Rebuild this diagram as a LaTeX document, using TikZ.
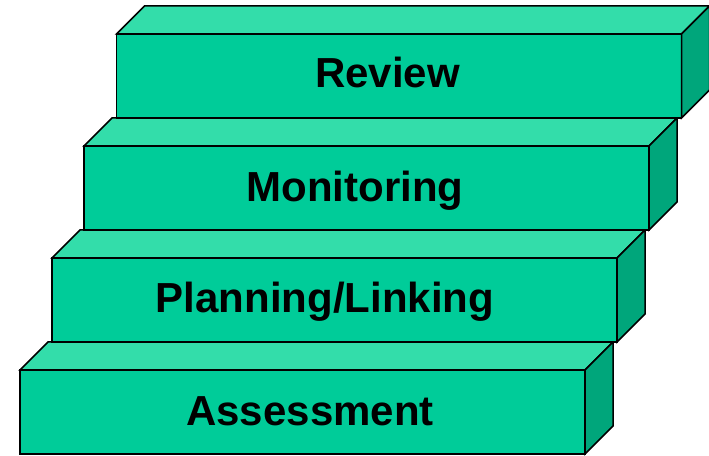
\documentclass[tikz,border=0pt]{standalone}
\usepackage{fontspec}
\setmainfont{Liberation Sans}
\usetikzlibrary{calc}
\definecolor{frontc}{RGB}{0,204,153}
\definecolor{topc}{RGB}{51,221,170}
\definecolor{sidec}{RGB}{0,166,123}
\begin{document}
\begin{tikzpicture}[x=1pt,y=1pt,
  frontface/.style={draw=black,fill=frontc,line width=1.5pt,minimum width=565pt,minimum height=84pt,inner sep=0pt,outer sep=0pt},
  topface/.style={draw=black,fill=topc,line width=1.5pt,line join=miter},
  sideface/.style={draw=black,fill=sidec,line width=1.5pt,line join=miter},
  steplabel/.style={font=\fontsize{42}{50}\selectfont\bfseries,anchor=base,inner sep=0pt}]
\useasboundingbox (0,0) rectangle (709,455);
\foreach \n/\cx/\cy/\tx/\ty/\txt in {a/302.5/43/310/30/Assessment,b/334.5/155/325/142/Planning\slash Linking,c/366.5/267/355/253/Monitoring,d/399/379/387.5/367/Review}{
  \node[frontface] (\n) at (\cx,\cy) {};
  \draw[topface] (\n.north west) -- ++(28,28) -- ($(\n.north east)+(28,28)$) -- (\n.north east) -- cycle;
  \draw[sideface] (\n.north east) -- ++(28,28) -- ($(\n.south east)+(28,28)$) -- (\n.south east) -- cycle;
  \node[steplabel] (\n t) at (\tx,\ty) {\txt};
}
\end{tikzpicture}
\end{document}
